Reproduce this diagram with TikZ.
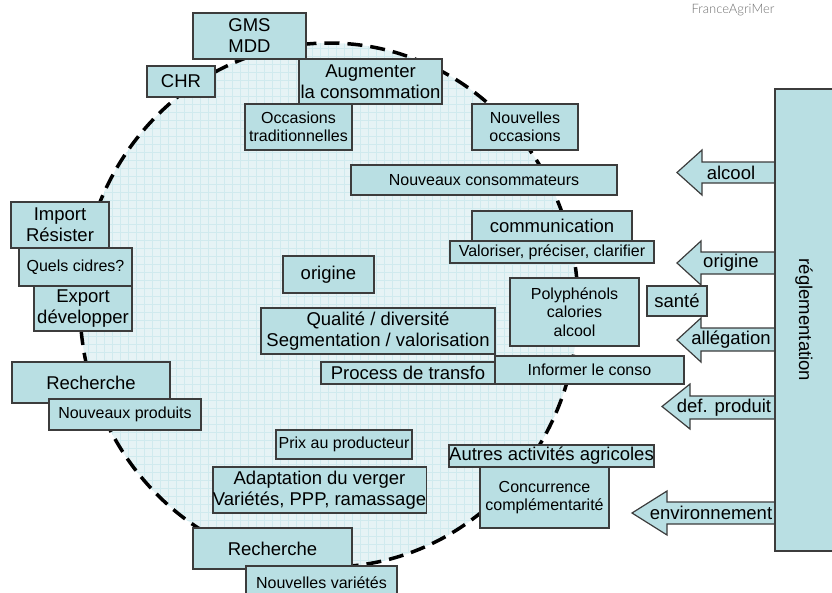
\documentclass[tikz,border=0pt]{standalone}
\usepackage{fontspec}
\setmainfont{Liberation Sans}
\newfontfamily\brandfont{Lato Light}

\definecolor{boxfill}{HTML}{B9DFE3}
\definecolor{boxline}{HTML}{3C3C3C}
\definecolor{zonefill}{HTML}{E6F3F5}
\definecolor{zonegrid}{HTML}{D0EAEE}
\definecolor{brandgray}{HTML}{707070}

\tikzset{
  tb/.style={draw=boxline, fill=boxfill, line width=1.2pt, inner sep=0pt,
             outer sep=0pt, align=center, text=black},
  big/.style={font=\fontsize{18.5}{21}\selectfont},
  small/.style={font=\fontsize{16}{18.5}\selectfont},
  ptr/.style={draw=boxline, fill=boxfill, line width=1.2pt, line join=miter},
  lbl/.style={inner sep=0pt, text=black, font=\fontsize{18.5}{21}\selectfont},
  zone/.style={line width=3.5pt, dash pattern=on 15pt off 8pt},
}

% box given by its corners: name, x1, y1, x2, y2, text style, text
\newcommand\boxat[7]{%
  \node[tb,#6,minimum width={#4-#2},minimum height={#5-#3}] (#1)
    at ({(#2+#4)/2},{(#3+#5)/2}) {#7};}

% left-pointing block arrow: name, tip x, tip y, head base x, head half height,
% shaft top, shaft bottom, label x, label
\newcommand\leftpointer[9]{%
  \draw[ptr] (#2,#3) -- (#4,#3-#5) -- (#4,#6) -- (777,#6) -- (777,#7)
    -- (#4,#7) -- (#4,#3+#5) -- cycle;
  \node[lbl] (#1) at (#8,{(#6+#7)/2}) {#9};}

\begin{document}
\begin{tikzpicture}[x=1pt,y=-1pt]
\useasboundingbox (0,0) rectangle (832,592);

% shaded zone with its fine grid
\begin{scope}
  \clip (329,305) ellipse [x radius=249pt, y radius=262pt];
  \fill[zonefill] (0,0) rectangle (832,592);
  \foreach \g in {0,8,...,832} \draw[zonegrid, line width=0.9pt] (\g,0) -- (\g,592);
  \foreach \g in {0,8,...,592} \draw[zonegrid, line width=0.9pt] (0,\g) -- (832,\g);
\end{scope}
\draw[zone] (329,305) ellipse [x radius=249pt, y radius=262pt];

% top of the zone
\boxat{gms}{193}{13}{306}{59}{big}{GMS\\MDD}
\boxat{chr}{147}{66}{215}{97}{big}{CHR}
\boxat{augm}{299}{59}{442}{104}{big}{Augmenter\\la consommation}
\boxat{occtrad}{245}{104}{352}{150}{small}{Occasions\\traditionnelles}
\boxat{occnew}{472}{104}{578}{150}{small}{Nouvelles\\occasions}
\boxat{newcons}{351}{165}{617}{195}{small}{Nouveaux consommateurs}

% left side
\boxat{import}{11}{202}{109}{248}{big}{Import\\Résister}
\boxat{cidres}{19}{248}{132}{286}{small}{Quels cidres?}
\boxat{export}{34}{286}{132}{331}{big}{Export\\développer}
\boxat{rechA}{12}{362}{170}{403}{big}{Recherche}
\boxat{prodnew}{49}{399}{201}{430}{small}{Nouveaux produits}

% centre
\boxat{orig}{283}{256}{374}{293}{big}{origine}
\boxat{qual}{261}{308}{495}{354}{big}{Qualité / diversité\\Segmentation / valorisation}
\boxat{process}{321}{362}{495}{384}{big}{Process de transfo}
\boxat{inform}{495}{356}{684}{384}{small}{Informer le conso}
\boxat{comm}{472}{211}{632}{241}{big}{communication}
\boxat{valor}{450}{241}{654}{263}{small}{Valoriser, préciser, clarifier}
\boxat{poly}{510}{278}{639}{346}{small}{Polyphénols\\calories\\alcool}

% bottom of the zone
\boxat{prix}{276}{430}{412}{459}{small}{Prix au producteur}
\boxat{verger}{223}{467}{416}{513}{big}{Adaptation du verger\\Variétés, PPP, ramassage}
\boxat{rechB}{193}{528}{352}{569}{big}{Recherche}
\boxat{varnew}{246}{566}{397}{600}{small}{Nouvelles variétés}
\boxat{autres}{449}{445}{654}{467}{big}{Autres activités agricoles}
\boxat{concur}{480}{467}{609}{528}{small}{Concurrence\\complémentarité}

% regulation arrows
\leftpointer{alc}{677}{172.5}{702}{22.5}{162}{183}{731}{alcool}
\leftpointer{ori}{677}{263}{701}{22}{252}{274}{731}{origine}
\leftpointer{alleg}{677}{340}{701}{22}{328}{351}{731}{allégation}
\boxat{sante}{647}{286}{707}{316}{big}{santé}
\leftpointer{defp}{662}{406.5}{690}{22.5}{396}{419}{724}{def. produit}
\leftpointer{envt}{632}{513}{667}{22}{502}{524}{711}{environnement}

% regulation bar
\boxat{regl}{775}{89}{845}{551}{big}{}
\node[lbl, rotate=-90] (reglt) at (804,320) {réglementation};

% brand
\node[inner sep=0pt, text=brandgray, font=\brandfont\fontsize{13}{15}\selectfont]
  (brand) at (733,10) {FranceAgriMer};
\end{tikzpicture}
\end{document}
